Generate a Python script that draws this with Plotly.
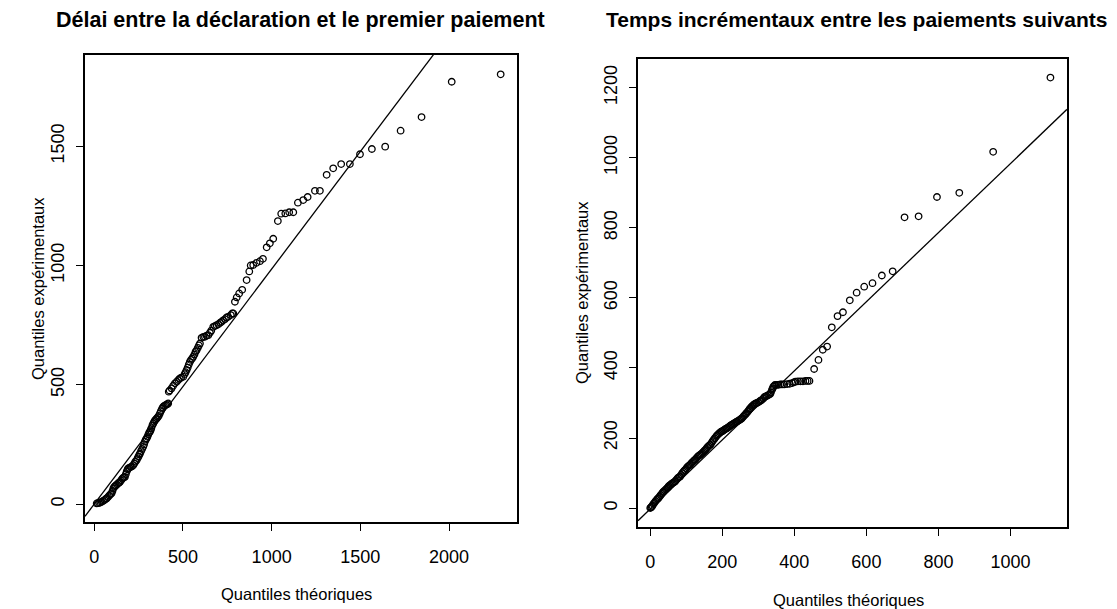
import plotly.graph_objects as go

# ---------------- data ----------------
left_title = "Délai entre la déclaration et le premier paiement"
right_title = "Temps incrémentaux entre les paiements suivants"
x_label = "Quantiles théoriques"
y_label = "Quantiles expérimentaux"

left_theo = [14, 20, 28, 35, 42, 50, 58, 65, 70, 78, 85, 92, 98, 103, 108, 113, 117, 122, 128, 135,
             140, 145, 152, 158, 163, 168, 173, 178, 183, 188, 192, 198, 205, 212, 220, 226, 232, 239,
             245, 250, 255, 258, 264, 270, 276, 281, 286, 290, 295, 300, 305, 310, 314, 318, 322, 328,
             333, 338, 342, 347, 352, 358, 364, 370, 376, 382, 387, 393, 400, 406, 412, 417, 420, 425,
             436, 445, 455, 465, 474, 482, 490, 502, 510, 515, 521, 527, 533, 539, 545, 552, 558, 565,
             571, 577, 584, 590, 596, 605, 615, 624, 633, 643, 652, 660, 671, 680, 690, 700, 710, 718,
             727, 737, 746, 755, 770, 778, 784, 793, 803, 817, 834, 859, 874, 882, 896, 915, 934, 951,
             972, 990, 1009, 1035, 1054, 1077, 1099, 1122, 1148, 1178, 1203, 1244, 1272, 1310, 1347,
             1392, 1441, 1498, 1565, 1640, 1727, 1845, 2015, 2291]
left_exp = [3, 4, 5, 7, 10, 13, 17, 21, 24, 30, 36, 41, 45, 55, 66, 72, 75, 78, 82, 87,
            90, 93, 100, 106, 110, 113, 114, 125, 137, 145, 150, 152, 155, 158, 163, 170, 178, 184,
            193, 200, 208, 212, 222, 231, 240, 250, 262, 270, 275, 282, 292, 300, 303, 310, 318, 330,
            338, 345, 350, 355, 359, 364, 370, 380, 390, 400, 406, 411, 414, 416, 419, 422, 471, 476,
            485, 496, 506, 513, 520, 526, 530, 534, 545, 553, 562, 572, 585, 596, 604, 610, 617, 627,
            638, 645, 655, 665, 673, 697, 701, 701, 706, 708, 718, 727, 743, 746, 750, 754, 760, 764,
            770, 775, 782, 785, 792, 799, 799, 848, 866, 883, 898, 939, 975, 1000, 1002, 1011, 1018, 1028,
            1076, 1093, 1112, 1186, 1217, 1218, 1223, 1223, 1263, 1274, 1287, 1313, 1313, 1380, 1407,
            1425, 1425, 1466, 1488, 1498, 1565, 1622, 1770, 1801]

right_theo = [0, 2, 4, 6, 9, 12, 15, 18, 21, 23, 26, 29, 32, 35, 37, 40, 43, 46, 49, 51, 54, 57, 60,
              63, 66, 69, 72, 75, 78, 81, 83, 86, 89, 92, 95, 97, 100, 103, 106, 109, 111, 114, 117, 120,
              123, 125, 128, 131, 134, 137, 139, 142, 145, 148, 151, 153, 156, 159, 162, 165, 167, 170,
              173, 176, 179, 182, 185, 188, 191, 194, 197, 199, 202, 205, 208, 211, 213, 216, 219, 222,
              225, 227, 230, 233, 236, 239, 241, 244, 247, 250, 253, 255, 258, 261, 264, 266, 268, 271,
              274, 276, 278, 281, 284, 287, 290, 293, 296, 300, 304, 307, 310, 314, 317, 319, 323, 327,
              330, 333, 335, 338, 340, 342, 345, 347, 352, 356, 361, 366, 372, 380, 387, 394, 399, 403,
              410, 417, 424, 431, 437, 442, 455, 467, 479, 491, 504, 520, 535, 554, 573, 594, 617, 643,
              673, 706, 745, 796, 858, 952, 1111]
right_exp = [0, 2, 4, 7, 12, 16, 20, 24, 27, 29, 33, 37, 41, 45, 47, 50, 53, 56, 59, 62, 65, 67, 70,
             72, 74, 76, 80, 84, 87, 89, 90, 95, 100, 104, 107, 109, 113, 117, 120, 122, 124, 128, 131,
             134, 137, 138, 142, 146, 149, 151, 152, 155, 158, 161, 164, 166, 170, 174, 177, 180, 181,
             186, 191, 195, 199, 203, 207, 210, 213, 216, 218, 219, 221, 223, 225, 227, 228, 230, 232,
             235, 237, 238, 240, 242, 244, 246, 247, 249, 251, 253, 255, 257, 261, 264, 267, 270, 272,
             276, 280, 283, 285, 289, 292, 295, 297, 299, 300, 302, 305, 307, 309, 313, 317, 318, 320,
             322, 324, 326, 330, 338, 342, 347, 350, 352, 352, 352, 353, 353, 353, 354, 355, 357, 359,
             361, 362, 362, 362, 363, 363, 363, 397, 423, 452, 461, 516, 548, 559, 593, 615, 632, 642,
             664, 676, 830, 833, 888, 900, 1017, 1229]

left_xticks = [0, 500, 1000, 1500, 2000]
left_yticks = [0, 500, 1000, 1500]
right_xticks = [0, 200, 400, 600, 800, 1000]
right_yticks = [0, 200, 400, 600, 800, 1000, 1200]

left_xrange = [-52, 2383]
left_yrange = [-75, 1882]
right_xrange = [-34, 1157]
right_yrange = [-54, 1282]

left_line = (0.0, 0.985)      # intercept, slope
right_line = (-2.5, 0.986)

# ---------------- figure ----------------
W, H = 1117, 609
FONT = "Liberation Sans, Arial, sans-serif"

def px_x(p):
    return p / W

def px_y(p):
    return 1 - p / H

fig = go.Figure()

def add_panel(xs, ys, line, xr, xaxis, yaxis):
    fig.add_trace(go.Scatter(x=xs, y=ys, mode="markers", xaxis=xaxis, yaxis=yaxis,
                             marker=dict(symbol="circle-open", size=6.5, color="black",
                                         line=dict(width=1.3, color="black")),
                             showlegend=False, hoverinfo="skip"))
    a, b = line
    lx = [xr[0], xr[1]]
    ly = [a + b * v for v in lx]
    fig.add_trace(go.Scatter(x=lx, y=ly, mode="lines", xaxis=xaxis, yaxis=yaxis,
                             line=dict(color="black", width=1.3),
                             showlegend=False, hoverinfo="skip"))

add_panel(left_theo, left_exp, left_line, left_xrange, "x", "y")
add_panel(right_theo, right_exp, right_line, right_xrange, "x2", "y2")

common_axis = dict(showline=True, linecolor="black", linewidth=1.6, mirror=True,
                   ticks="outside", ticklen=7, tickwidth=1.3, tickcolor="black",
                   showgrid=False, zeroline=False,
                   tickfont=dict(family=FONT, size=18, color="black"))

fig.update_layout(
    width=W, height=H,
    margin=dict(l=0, r=0, t=0, b=0),
    paper_bgcolor="white", plot_bgcolor="white",
    xaxis=dict(domain=[px_x(85), px_x(517)], range=left_xrange, tickvals=left_xticks,
               anchor="y", ticklabelstandoff=11, **common_axis),
    yaxis=dict(domain=[px_y(522), px_y(55)], range=left_yrange, tickvals=left_yticks,
               anchor="x", tickangle=-90, ticklabelstandoff=5, **common_axis),
    xaxis2=dict(domain=[px_x(638), px_x(1067)], range=right_xrange, tickvals=right_xticks,
                anchor="y2", ticklabelstandoff=11, **common_axis),
    yaxis2=dict(domain=[px_y(527), px_y(59)], range=right_yrange, tickvals=right_yticks,
                anchor="x2", tickangle=-90, ticklabelstandoff=5, **common_axis),
)

annots = [
    dict(text=f"<b>{left_title}</b>", x=px_x(300), y=px_y(20), size=21.5),
    dict(text=f"<b>{right_title}</b>", x=px_x(856), y=px_y(20), size=21),
    dict(text=x_label, x=px_x(296), y=px_y(594), size=16.5),
    dict(text=x_label, x=px_x(848), y=px_y(600), size=16.5),
    dict(text=y_label, x=px_x(38), y=px_y(288), size=16.5, angle=-90),
    dict(text=y_label, x=px_x(582), y=px_y(293), size=16.5, angle=-90),
]
for a in annots:
    fig.add_annotation(text=a["text"], x=a["x"], y=a["y"], xref="paper", yref="paper",
                       showarrow=False, xanchor="center", yanchor="middle",
                       textangle=a.get("angle", 0),
                       font=dict(family=FONT, size=a["size"], color="black"))

fig.write_html("out.html")
